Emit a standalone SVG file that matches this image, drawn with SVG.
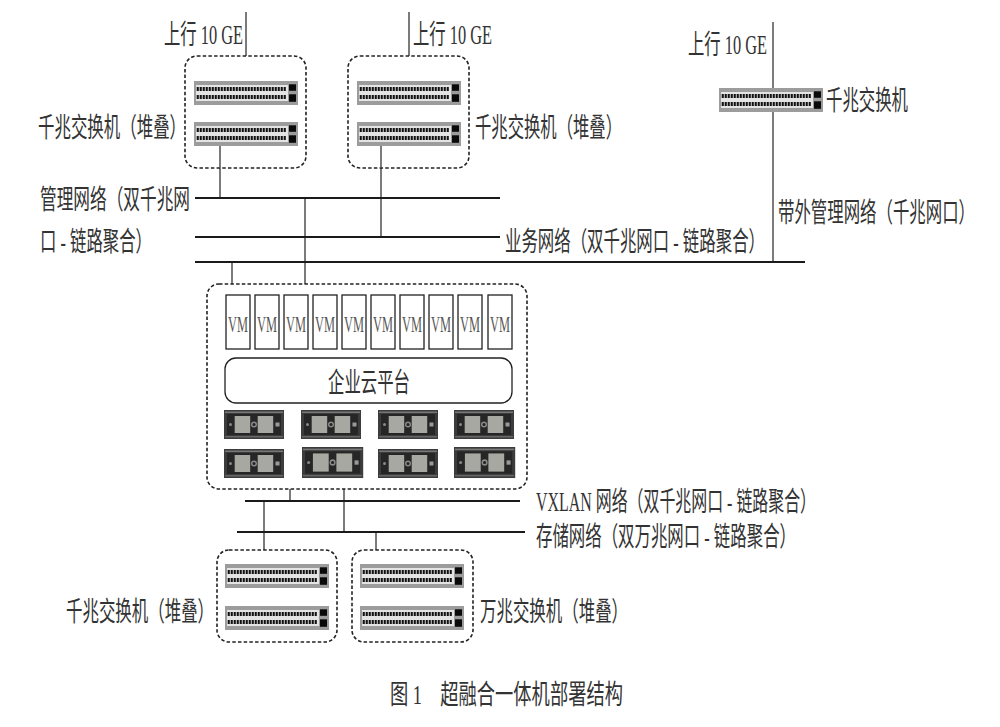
<svg xmlns="http://www.w3.org/2000/svg" xmlns:xlink="http://www.w3.org/1999/xlink" width="1000" height="727" viewBox="0 0 1000 727">
<style>
text{font-family:"Liberation Serif","Noto Sans CJK SC",serif;font-size:27px;fill:#333;}
.d{fill:#fff;stroke:#222;stroke-width:1.6;stroke-dasharray:3.500 2.200;}
.h{stroke:#1a1a1a;stroke-width:2;fill:none;}
.v{stroke:#444;stroke-width:1.4;fill:none;}
.vm{fill:#fff;stroke:#222;stroke-width:1.3;}
.vt{font-size:23px;fill:#555;}
</style>
<defs>
<g id="sw">
<rect width="104" height="24" fill="#9c9c9c"/>
<rect x="2" y="4" width="92" height="16" fill="#e4e4e4"/>
<line x1="2.700" y1="8" x2="92.700" y2="8" stroke="#111" stroke-width="4" stroke-dasharray="2.100 0.900"/>
<line x1="2.700" y1="16" x2="92.700" y2="16" stroke="#111" stroke-width="4" stroke-dasharray="2.100 0.900"/>
<rect x="95" y="3.300" width="7" height="6.500" fill="#0a0a0a"/>
<rect x="95" y="13.300" width="7" height="7.500" fill="#0a0a0a"/>
</g>
<g id="sv">
<rect width="60" height="29" fill="#3c3c3c"/>
<rect x="1" y="1.500" width="58" height="1.500" fill="#777"/>
<rect x="3" y="4" width="54" height="21" fill="#262626"/>
<rect x="1" y="26" width="58" height="1.500" fill="#666"/>
<rect x="10.700" y="6" width="15.500" height="17" fill="#a8a8a2"/>
<rect x="33.700" y="6" width="15.500" height="17" fill="#a8a8a2"/>
<circle cx="30" cy="14.500" r="3" fill="#8a8a8a"/>
<circle cx="30" cy="14.500" r="1.500" fill="#222"/>
<circle cx="6.500" cy="14.500" r="1.500" fill="#888"/>
<rect x="51.500" y="12.500" width="4" height="4" fill="#999"/>
</g>
</defs>
<g id="connectors">
<path class="v" d="M246 12V56M409 12V56M773 22V262M220 146V198M381 146V238M305 198V284M232 262V284M290 489V501M344 489V532M264 501V550M376 532V550"/>
<path class="h" d="M195 198H500M195 237H500M195 262H805M245 501H520M237 532H525"/>
</g>
<g id="stack-top-left">
<rect class="d" x="185" y="56" width="121" height="112" rx="12"/>
<use xlink:href="#sw" x="194" y="81"/><use xlink:href="#sw" x="194" y="122"/>
<line class="v" x1="220" y1="146" x2="220" y2="168"/>
</g>
<g id="stack-top-right">
<rect class="d" x="348" y="56" width="121" height="112" rx="12"/>
<use xlink:href="#sw" x="357" y="81"/><use xlink:href="#sw" x="357" y="122"/>
<line class="v" x1="381" y1="146" x2="381" y2="168"/>
</g>
<g id="switch-right"><use xlink:href="#sw" x="719" y="88"/></g>
<g id="cloud">
<rect class="d" x="207" y="284" width="320" height="205" rx="12"/>
<g id="vms">
<rect class="vm" x="226" y="295" width="24" height="54"/><rect class="vm" x="255" y="295" width="24" height="54"/><rect class="vm" x="284" y="295" width="24" height="54"/><rect class="vm" x="313" y="295" width="24" height="54"/><rect class="vm" x="342" y="295" width="24" height="54"/><rect class="vm" x="371" y="295" width="24" height="54"/><rect class="vm" x="400" y="295" width="24" height="54"/><rect class="vm" x="429" y="295" width="24" height="54"/><rect class="vm" x="458" y="295" width="24" height="54"/><rect class="vm" x="488" y="295" width="24" height="54"/>
<text class="vt" transform="translate(228 332) scale(.54 1)">VM</text><text class="vt" transform="translate(257 332) scale(.54 1)">VM</text><text class="vt" transform="translate(286 332) scale(.54 1)">VM</text><text class="vt" transform="translate(315 332) scale(.54 1)">VM</text><text class="vt" transform="translate(344 332) scale(.54 1)">VM</text><text class="vt" transform="translate(373 332) scale(.54 1)">VM</text><text class="vt" transform="translate(402 332) scale(.54 1)">VM</text><text class="vt" transform="translate(431 332) scale(.54 1)">VM</text><text class="vt" transform="translate(460 332) scale(.54 1)">VM</text><text class="vt" transform="translate(490 332) scale(.54 1)">VM</text>
</g>
<g id="platform"><rect class="vm" x="225" y="358" width="287" height="45" rx="11"/>
<text transform="translate(328 392) scale(.6 1)" textLength="136.700" lengthAdjust="spacingAndGlyphs">企业云平台</text></g>
<g id="servers">
<use xlink:href="#sv" x="224" y="410"/><use xlink:href="#sv" x="301" y="410"/><use xlink:href="#sv" x="378" y="410"/><use xlink:href="#sv" x="454" y="410"/>
<use xlink:href="#sv" x="224" y="449"/><use xlink:href="#sv" transform="translate(302 447) scale(1.02 1.07)"/><use xlink:href="#sv" x="378" y="449"/><use xlink:href="#sv" transform="translate(454 447) scale(1.02 1.07)"/>
</g>
</g>
<g id="stack-bottom-left">
<rect class="d" x="217" y="550" width="120" height="92" rx="12"/>
<use xlink:href="#sw" x="225" y="564"/><use xlink:href="#sw" x="225" y="606"/>
</g>
<g id="stack-bottom-right">
<rect class="d" x="352" y="550" width="121" height="92" rx="12"/>
<use xlink:href="#sw" x="360" y="564"/><use xlink:href="#sw" x="360" y="606"/>
</g>
<g id="labels">
<text transform="translate(164 44) scale(.6 1)" textLength="131.700" lengthAdjust="spacingAndGlyphs">上行 10 GE</text>
<text transform="translate(413 44) scale(.6 1)" textLength="131.700" lengthAdjust="spacingAndGlyphs">上行 10 GE</text>
<text transform="translate(688 54) scale(.6 1)" textLength="131.700" lengthAdjust="spacingAndGlyphs">上行 10 GE</text>
<text transform="translate(38 137) scale(.6 1)" textLength="246.700" lengthAdjust="spacingAndGlyphs">千兆交换机（堆叠）</text>
<text transform="translate(475 137) scale(.6 1)" textLength="245" lengthAdjust="spacingAndGlyphs">千兆交换机（堆叠）</text>
<text transform="translate(826 110) scale(.6 1)" textLength="136.700" lengthAdjust="spacingAndGlyphs">千兆交换机</text>
<text transform="translate(40 209) scale(.6 1)" textLength="250" lengthAdjust="spacingAndGlyphs">管理网络（双千兆网</text>
<text transform="translate(40 251) scale(.6 1)" textLength="186.700" lengthAdjust="spacingAndGlyphs">口 - 链路聚合）</text>
<text transform="translate(505 251) scale(.6 1)" textLength="433.300" lengthAdjust="spacingAndGlyphs">业务网络（双千兆网口 - 链路聚合）</text>
<text transform="translate(778 222) scale(.6 1)" textLength="328.300" lengthAdjust="spacingAndGlyphs">带外管理网络（千兆网口）</text>
<text transform="translate(536 511) scale(.6 1)" textLength="466.700" lengthAdjust="spacingAndGlyphs">VXLAN 网络（双千兆网口 - 链路聚合）</text>
<text transform="translate(536 546) scale(.6 1)" textLength="433.300" lengthAdjust="spacingAndGlyphs">存储网络（双万兆网口 - 链路聚合）</text>
<text transform="translate(66 621) scale(.6 1)" textLength="246.700" lengthAdjust="spacingAndGlyphs">千兆交换机（堆叠）</text>
<text transform="translate(480 621) scale(.6 1)" textLength="246.700" lengthAdjust="spacingAndGlyphs">万兆交换机（堆叠）</text>
<text transform="translate(390 704) scale(.6 1)" textLength="388.300" lengthAdjust="spacingAndGlyphs">图 1　超融合一体机部署结构</text>
</g>
</svg>
